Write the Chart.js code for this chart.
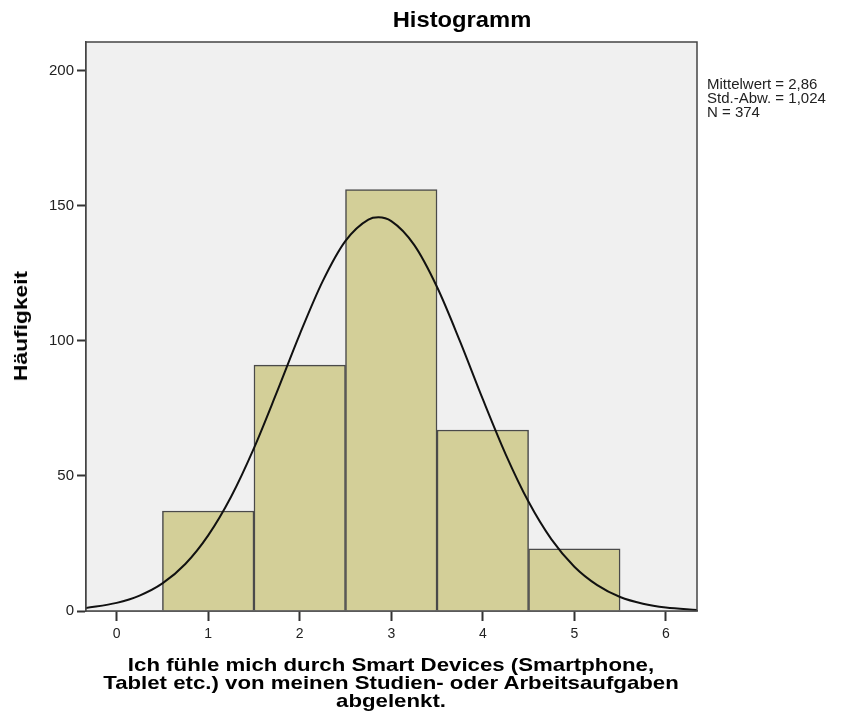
<!DOCTYPE html>
<html><head><meta charset="utf-8">
<script src="https://cdn.jsdelivr.net/npm/chart.js@4"></script>
<style>
html,body{margin:0;padding:0;background:#fff;}
#wrap{position:relative;width:843px;height:722px;}
canvas{position:absolute;left:0;top:0;}
.t{position:absolute;color:#000;white-space:nowrap;}
#title{left:462px;top:7px;transform:translateX(-50%) scaleX(1.08);font:bold 22px "Liberation Sans",Arial,sans-serif;}
#stats{left:707px;top:77px;font:15px "Liberation Sans",Arial,sans-serif;line-height:14px;color:#222;}
#xtitle{left:391px;top:656px;transform:translateX(-50%) scaleX(1.17);text-align:center;font:bold 19px "Liberation Sans",Arial,sans-serif;line-height:18px;}
#ytitle{left:21px;top:326px;transform:translate(-50%,-50%) rotate(-90deg) scaleX(1.2);font:bold 19px "Liberation Sans",Arial,sans-serif;}
</style></head>
<body><div id="wrap"><canvas id="c" width="843" height="722"></canvas>
<div class="t" id="title"></div><div class="t" id="stats"></div><div class="t" id="xtitle"></div><div class="t" id="ytitle"></div></div>
<script>
const chartTitle = "Histogramm";
const xAxisTitle = ["Ich fühle mich durch Smart Devices (Smartphone,", "Tablet etc.) von meinen Studien- oder Arbeitsaufgaben", "abgelenkt."];
const yAxisTitle = "Häufigkeit";
const statsLines = ["Mittelwert = 2,86", "Std.-Abw. = 1,024", "N = 374"];
const binCenters = [1, 2, 3, 4, 5];
const binCounts = [37, 91, 156, 67, 23];
const curveX = [-0.34, 0, 0.25, 0.5, 0.75, 1, 1.25, 1.5, 1.75, 2, 2.25, 2.5, 2.75, 2.86, 3, 3.25, 3.5, 3.75, 4, 4.25, 4.5, 4.75, 5, 5.25, 5.5, 5.75, 6, 6.34];
const curveY = [1.1, 3.0, 5.7, 10.2, 17.4, 28.0, 42.3, 60.3, 81.0, 102.4, 122.0, 137.0, 144.9, 145.7, 144.3, 135.5, 119.9, 99.9, 78.4, 58.0, 40.4, 26.5, 16.4, 9.6, 5.2, 2.7, 1.3, 0.4];
const yTicks = [0, 50, 100, 150, 200];
const xTicks = [0, 1, 2, 3, 4, 5, 6];

document.getElementById('title').textContent = chartTitle;
document.getElementById('stats').innerHTML = statsLines.join('<br>');
document.getElementById('xtitle').innerHTML = xAxisTitle.join('<br>');
document.getElementById('ytitle').textContent = yAxisTitle;

const bgPlugin = {
  id: 'bg',
  beforeDatasetsDraw(chart) {
    const a = chart.chartArea, ctx = chart.ctx;
    ctx.save(); ctx.fillStyle = '#f0f0f0';
    ctx.fillRect(a.left, a.top, a.right - a.left, a.bottom - a.top);
    ctx.restore();
  },
  afterDatasetsDraw(chart) {
    const a = chart.chartArea, ctx = chart.ctx;
    ctx.save(); ctx.strokeStyle = '#444'; ctx.lineWidth = 1.5;
    ctx.strokeRect(a.left, a.top, a.right - a.left, a.bottom - a.top);
    ctx.restore();
  }
};

new Chart(document.getElementById('c'), {
  type: 'bar',
  data: {
    datasets: [
      {
        type: 'line',
        data: curveX.map((x, i) => ({x: x, y: curveY[i]})),
        borderColor: '#111', borderWidth: 2, pointRadius: 0, fill: false,
        cubicInterpolationMode: 'monotone', order: 0
      },
      {
        type: 'bar',
        data: binCenters.map((x, i) => ({x: x, y: binCounts[i]})),
        backgroundColor: '#d3cf98', borderColor: '#4a4a4a', borderWidth: 1.5,
        barPercentage: 1, categoryPercentage: 1, grouped: false, order: 1
      }
    ]
  },
  options: {
    responsive: false, animation: false,
    layout: {padding: {top: 42, right: 146, bottom: 0, left: 0}},
    plugins: {legend: {display: false}, tooltip: {enabled: false}},
    scales: {
      x: {
        type: 'linear', min: -0.335, max: 6.34, offset: false,
        afterFit(s) { s.height = 111; },
        afterBuildTicks(s) { s.ticks = xTicks.map(v => ({value: v})); },
        grid: {offset: false, drawOnChartArea: false, drawTicks: true, tickLength: 10, tickColor: '#333', tickWidth: 2},
        border: {display: true, color: '#444', width: 1.5},
        ticks: {color: '#222', padding: 5, font: {family: 'Liberation Sans', size: 14}}
      },
      y: {
        min: 0, max: 210.6,
        afterFit(s) { s.width = 86; },
        afterBuildTicks(s) { s.ticks = yTicks.map(v => ({value: v})); },
        grid: {drawOnChartArea: false, drawTicks: true, tickLength: 9, tickColor: '#333', tickWidth: 2},
        border: {display: true, color: '#444', width: 1.5},
        ticks: {color: '#222', padding: 3, font: {family: 'Liberation Sans', size: 15}}
      }
    }
  },
  plugins: [bgPlugin]
});
</script></body></html>
